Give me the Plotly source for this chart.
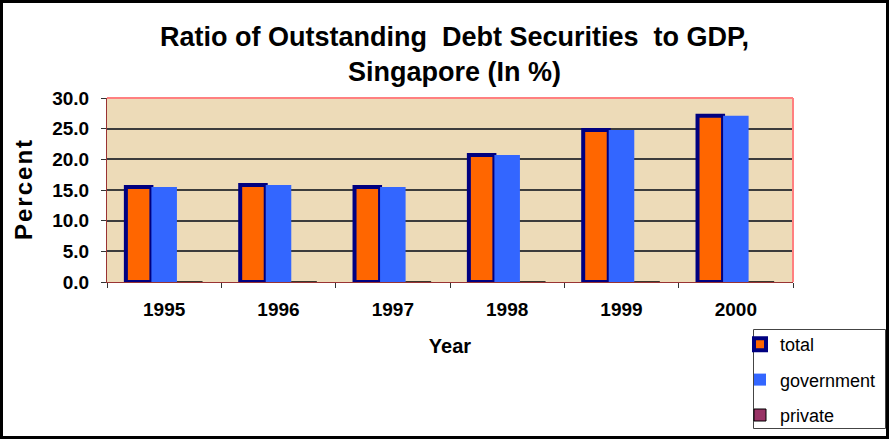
import plotly.graph_objects as go

# Outstanding debt securities as a share of GDP, Singapore (%)
years = ["1995", "1996", "1997", "1998", "1999", "2000"]
total = [15.5, 15.8, 15.5, 20.7, 24.8, 27.1]
government = [15.5, 15.8, 15.5, 20.7, 24.8, 27.1]
private = [0.0, 0.0, 0.0, 0.0, 0.0, 0.0]
y_ticks = [0, 5, 10, 15, 20, 25, 30]

W, H = 889, 439
M_L, M_R, M_T, M_B = 107, 96, 98, 157
PW, PH = W - M_L - M_R, H - M_T - M_B

FONT = "Liberation Sans, Arial, sans-serif"

fig = go.Figure()
fig.add_trace(go.Bar(
    name="total", x=years, y=total, legendgroup="a",
    marker=dict(color="#FF6600", line=dict(color="#000080", width=4)),
))
fig.add_trace(go.Bar(
    name="government", x=years, y=government, legendgroup="b",
    marker=dict(color="#3366FF", line=dict(width=0)),
))
fig.add_trace(go.Bar(
    name="private", x=years, y=private, legendgroup="c",
    marker=dict(color="#993366", line=dict(color="#000000", width=1)),
))


def px_x(p):
    return (p - M_L) / PW


def px_y(p):
    return (H - M_B - p) / PH


shapes = [
    # outer chart frame
    dict(type="rect", xref="paper", yref="paper",
         x0=px_x(1.5), x1=px_x(W - 1.5), y0=px_y(H - 1.5), y1=px_y(1.5),
         line=dict(color="#000000", width=3), layer="above"),
    # top and right edges of the plot area
    dict(type="line", xref="paper", yref="paper", x0=0, x1=1, y0=1, y1=1,
         line=dict(color="#FF8080", width=2), layer="above"),
    dict(type="line", xref="paper", yref="paper", x0=1, x1=1, y0=0, y1=1,
         line=dict(color="#FF8080", width=2), layer="above"),
    # legend box
    dict(type="rect", xref="paper", yref="paper",
         x0=px_x(753.5), x1=px_x(885.5), y0=px_y(428.5), y1=px_y(329.5),
         line=dict(color="#444444", width=1), fillcolor="rgba(0,0,0,0)", layer="above"),
]

annotations = [
    dict(text="<b>Ratio of Outstanding \u00a0Debt Securities \u00a0to GDP,<br>Singapore (In %)</b>",
         xref="paper", yref="paper", x=px_x(454), y=px_y(20),
         xanchor="center", yanchor="top", showarrow=False,
         font=dict(size=27, family=FONT, color="#000000")),
]

fig.update_layout(
    width=W, height=H,
    margin=dict(l=M_L, r=M_R, t=M_T, b=M_B, pad=0, autoexpand=False),
    paper_bgcolor="#FFFFFF",
    plot_bgcolor="#EDDBB8",
    barmode="group",
    bargap=0.33,
    bargroupgap=0,
    font=dict(family=FONT, color="#000000"),
    xaxis=dict(
        showgrid=False,
        showline=True, linecolor="#993333", linewidth=1,
        ticks="outside", tickson="boundaries", ticklen=5, tickcolor="#333333",
        tickfont=dict(size=19, family=FONT, color="#000000", weight="bold"),
        ticklabelstandoff=10,
        title=dict(text="<b>Year</b>", font=dict(size=20, family=FONT), standoff=20),
    ),
    yaxis=dict(
        range=[0, 30], tickvals=y_ticks, tickformat=".1f",
        showgrid=True, gridcolor="#3C3C3C", gridwidth=1.5,
        showline=True, linecolor="#993333", linewidth=1,
        ticks="outside", ticklen=5, tickcolor="#333333",
        tickfont=dict(size=19, family=FONT, color="#000000", weight="bold"),
        ticklabelstandoff=8,
        zeroline=False,
        title=dict(text="<b>P\u200ae\u200ar\u200ac\u200ae\u200an\u200at</b>",
                   font=dict(size=24, family=FONT), standoff=12),
    ),
    legend=dict(
        x=px_x(740), y=px_y(326), xanchor="left", yanchor="top",
        bgcolor="rgba(0,0,0,0)", borderwidth=0,
        font=dict(size=18, family=FONT, color="#000000"),
        traceorder="grouped", tracegroupgap=9,
        itemwidth=30,
    ),
    annotations=annotations,
    shapes=shapes,
)

fig.write_html("out.html")
